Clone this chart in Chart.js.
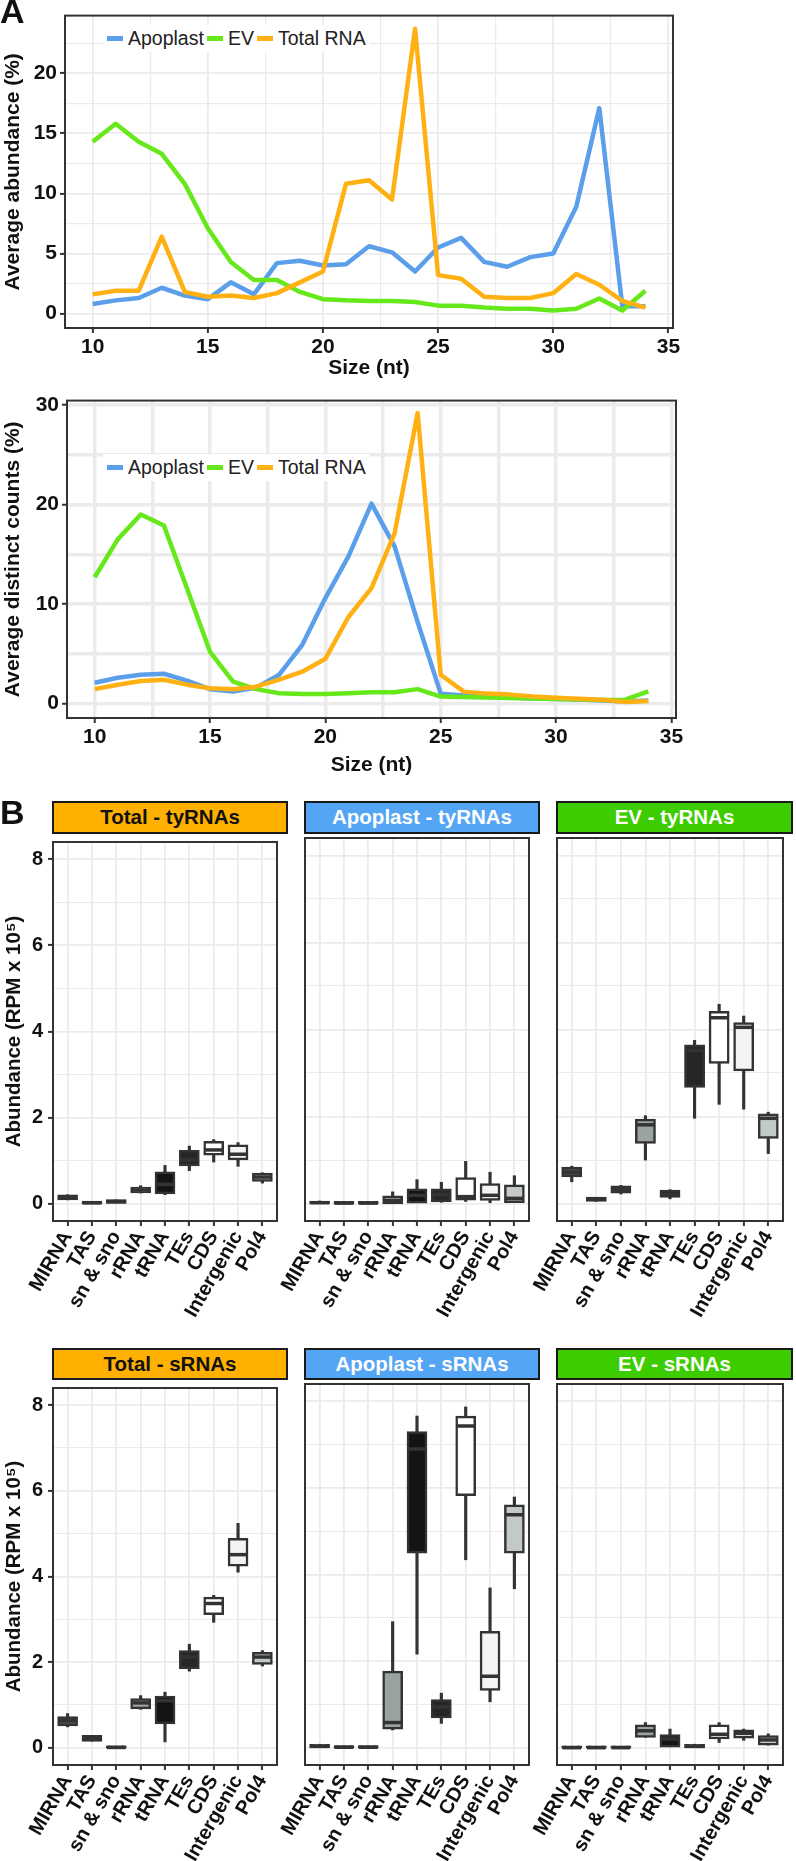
<!DOCTYPE html>
<html>
<head>
<meta charset="utf-8">
<script src="https://cdn.jsdelivr.net/npm/chart.js@4.4.1/dist/chart.umd.min.js"></script>
<style>
  body { margin: 0; background: #fff; }
  #page { position: relative; width: 796px; height: 1861px; overflow: hidden; background: #fff;
          font-family: 'Liberation Sans', Arial, sans-serif; }
  canvas { position: absolute; }
  .panel-tag { position: absolute; font-weight: bold; font-size: 34px; color: #111; }
  .legend { position: absolute; display: flex; align-items: center; background: #fff;
            font-size: 19.5px; color: #222; padding: 2px 4px; white-space: nowrap; }
  .key { display: inline-block; width: 16px; height: 4.5px; margin: 0 5px 0 3px; }
  .key:first-child { margin-left: 0; }
  .strip { position: absolute; box-sizing: border-box; border: 2px solid #1a1a1a; text-align: center;
           font-weight: bold; font-size: 20.5px; line-height: 28px; }
</style>
</head>
<body>
<div id="page">
  <canvas id="abund" width="690" height="385" style="left:0;top:0"></canvas>
  <canvas id="distinct" width="690" height="395" style="left:0;top:385px"></canvas>

  <canvas id="totTy" width="290" height="510" style="left:0;top:825px"></canvas>
  <canvas id="apoTy" width="262" height="510" style="left:280px;top:825px"></canvas>
  <canvas id="evTy" width="264" height="510" style="left:532px;top:825px"></canvas>
  <canvas id="totS" width="290" height="490" style="left:0;top:1371px"></canvas>
  <canvas id="apoS" width="262" height="490" style="left:280px;top:1371px"></canvas>
  <canvas id="evS" width="264" height="490" style="left:532px;top:1371px"></canvas>

  <div class="panel-tag" style="left:0;top:-8px">A</div>
  <div class="panel-tag" style="left:0;top:793px">B</div>

  <div class="legend" style="left:103px;top:25px">
    <span class="key" style="background:#5b9fea"></span>Apoplast
    <span class="key" style="background:#66e81a"></span>EV
    <span class="key" style="background:#ffb012"></span>Total RNA
  </div>
  <div class="legend" style="left:103px;top:454px">
    <span class="key" style="background:#5b9fea"></span>Apoplast
    <span class="key" style="background:#66e81a"></span>EV
    <span class="key" style="background:#ffb012"></span>Total RNA
  </div>

  <div class="strip" style="left:52px;top:801px;width:236px;height:33px;background:#ffb000;color:#111">Total - tyRNAs</div>
  <div class="strip" style="left:304px;top:801px;width:236px;height:33px;background:#55a5f5;color:#fff">Apoplast - tyRNAs</div>
  <div class="strip" style="left:556px;top:801px;width:237px;height:33px;background:#3dcc00;color:#fff">EV - tyRNAs</div>
  <div class="strip" style="left:52px;top:1348px;width:236px;height:32px;background:#ffb000;color:#111">Total - sRNAs</div>
  <div class="strip" style="left:304px;top:1348px;width:236px;height:32px;background:#55a5f5;color:#fff">Apoplast - sRNAs</div>
  <div class="strip" style="left:556px;top:1348px;width:237px;height:32px;background:#3dcc00;color:#fff">EV - sRNAs</div>
</div>

<script>
// ---- panel A: size distributions ----
const sizes = [10, 11, 12, 13, 14, 15, 16, 17, 18, 19, 20, 21, 22, 23, 24, 25, 26, 27, 28, 29, 30, 31, 32, 33, 34];

const abundApoplast = [0.8, 1.1, 1.3, 2.15, 1.5, 1.2, 2.6, 1.6, 4.2, 4.4, 4.0, 4.1, 5.6, 5.1, 3.5, 5.5, 6.3, 4.3, 3.9, 4.7, 5.0, 8.9, 17.1, 0.6, 0.6];
const abundEV       = [14.3, 15.8, 14.3, 13.3, 10.8, 7.1, 4.3, 2.8, 2.8, 1.8, 1.2, 1.1, 1.05, 1.05, 0.97, 0.66, 0.66, 0.5, 0.4, 0.4, 0.26, 0.4, 1.26, 0.26, 1.9];
const abundTotal    = [1.6, 1.9, 1.9, 6.4, 1.8, 1.4, 1.5, 1.3, 1.7, 2.6, 3.5, 10.8, 11.1, 9.5, 23.7, 3.2, 2.9, 1.4, 1.3, 1.3, 1.7, 3.3, 2.4, 1.05, 0.5];

const distApoplast = [2.1, 2.6, 2.9, 3.0, 2.3, 1.45, 1.2, 1.6, 2.9, 5.9, 10.6, 14.8, 20.1, 15.8, 8.2, 1.0, 0.8, 0.7, 0.6, 0.5, 0.45, 0.4, 0.3, 0.2, 0.3];
const distEV       = [12.7, 16.5, 19.0, 17.9, 11.6, 5.2, 2.2, 1.45, 1.03, 0.97, 0.97, 1.03, 1.13, 1.13, 1.45, 0.7, 0.65, 0.6, 0.55, 0.5, 0.45, 0.4, 0.35, 0.39, 1.23];
const distTotal    = [1.45, 1.9, 2.26, 2.4, 1.9, 1.55, 1.45, 1.7, 2.4, 3.2, 4.5, 8.7, 11.6, 17.1, 29.2, 2.9, 1.2, 1.0, 0.9, 0.7, 0.58, 0.48, 0.39, 0.16, 0.26];

// ---- panel B: boxplots, each row is [min, q1, median, q3, max] ----
const rnaClasses = ['MIRNA', 'TAS', 'sn & sno', 'rRNA', 'tRNA', 'TEs', 'CDS', 'Intergenic', 'Pol4'];

const totalTyRNAs = [
  [0.09, 0.11, 0.15, 0.19, 0.21], [0.0, 0.0, 0.02, 0.04, 0.05], [0.02, 0.03, 0.05, 0.08, 0.09],
  [0.25, 0.27, 0.32, 0.37, 0.42], [0.21, 0.25, 0.45, 0.72, 0.89], [0.77, 0.9, 1.02, 1.22, 1.34],
  [0.97, 1.15, 1.25, 1.43, 1.49], [0.87, 1.04, 1.15, 1.35, 1.42], [0.48, 0.54, 0.62, 0.69, 0.72]
];
const apoplastTyRNAs = [
  [0.0, 0.0, 0.02, 0.04, 0.06], [0.0, 0.0, 0.01, 0.03, 0.04], [0.0, 0.0, 0.01, 0.03, 0.04],
  [0.0, 0.01, 0.07, 0.16, 0.27], [0.0, 0.03, 0.19, 0.32, 0.55], [0.03, 0.06, 0.21, 0.32, 0.49],
  [0.05, 0.1, 0.16, 0.58, 0.97], [0.02, 0.09, 0.19, 0.44, 0.72], [0.0, 0.04, 0.12, 0.41, 0.64]
];
const evTyRNAs = [
  [0.5, 0.63, 0.72, 0.82, 0.86], [0.05, 0.07, 0.1, 0.13, 0.14], [0.22, 0.26, 0.32, 0.39, 0.42],
  [1.0, 1.4, 1.81, 1.92, 2.02], [0.11, 0.16, 0.22, 0.29, 0.32], [1.96, 2.69, 3.52, 3.63, 3.75],
  [2.28, 3.24, 4.27, 4.4, 4.58], [2.17, 3.07, 4.05, 4.14, 4.31], [1.15, 1.52, 1.96, 2.04, 2.1]
];
const totalSRNAs = [
  [0.49, 0.53, 0.64, 0.71, 0.8], [0.16, 0.17, 0.22, 0.27, 0.28], [0.0, 0.0, 0.01, 0.03, 0.04],
  [0.9, 0.93, 1.05, 1.13, 1.22], [0.14, 0.58, 1.1, 1.19, 1.3], [1.79, 1.87, 2.12, 2.25, 2.42],
  [2.93, 3.13, 3.37, 3.5, 3.56], [4.1, 4.26, 4.51, 4.87, 5.24], [1.91, 1.97, 2.12, 2.21, 2.27]
];
const apoplastSRNAs = [
  [0.0, 0.0, 0.03, 0.06, 0.08], [0.0, 0.0, 0.01, 0.03, 0.04], [0.0, 0.0, 0.01, 0.03, 0.04],
  [0.41, 0.45, 0.58, 1.75, 2.91], [2.16, 4.51, 6.9, 7.28, 7.66], [0.56, 0.71, 0.94, 1.09, 1.26],
  [4.34, 5.84, 7.43, 7.64, 7.87], [1.06, 1.34, 1.65, 2.67, 3.69], [3.67, 4.51, 5.38, 5.59, 5.79]
];
const evSRNAs = [
  [0.0, 0.0, 0.0, 0.02, 0.03], [0.0, 0.0, 0.0, 0.02, 0.03], [0.0, 0.0, 0.0, 0.02, 0.03],
  [0.24, 0.26, 0.39, 0.51, 0.58], [0.02, 0.03, 0.2, 0.28, 0.43], [0.0, 0.0, 0.03, 0.06, 0.08],
  [0.12, 0.22, 0.31, 0.51, 0.58], [0.17, 0.24, 0.33, 0.39, 0.43], [0.06, 0.08, 0.18, 0.26, 0.32]
];

// styles
const BLUE = '#5b9fea', GREEN = '#66e81a', ORANGE = '#ffb012';
const BOXLINE = '#333333';
const classFills = ['#4d4d4d', '#2b2b2b', '#2b2b2b', '#9aa3a1', '#141414', '#262626', '#ffffff', '#f4f4f4', '#c3c9c7'];

Chart.defaults.font.family = "'Liberation Sans', Arial, sans-serif";
Chart.defaults.color = '#111';

// ggplot-like panel border, drawn over the data
const framePlugin = {
  id: 'frame',
  afterDatasetsDraw(chart) {
    const { ctx, chartArea: a } = chart;
    ctx.save();
    ctx.strokeStyle = '#333';
    ctx.lineWidth = 2;
    ctx.strokeRect(a.left, a.top, a.right - a.left, a.bottom - a.top);
    ctx.restore();
  }
};

function lineChart(id, series, o) {
  new Chart(document.getElementById(id), {
    type: 'line',
    data: {
      labels: sizes,
      datasets: [
        { data: series[0], borderColor: BLUE, order: 3 },
        { data: series[1], borderColor: GREEN, order: 2 },
        { data: series[2], borderColor: ORANGE, order: 1 }
      ]
    },
    options: {
      responsive: false,
      animation: false,
      layout: { padding: o.padding },
      elements: {
        point: { radius: 0 },
        line: { borderWidth: 4.5, tension: 0, borderJoinStyle: 'round' }
      },
      plugins: { legend: { display: false }, tooltip: { enabled: false } },
      scales: {
        x: {
          type: 'linear', min: 8.8, max: 35.2,
          border: { display: false },
          ticks: {
            stepSize: 2.5, includeBounds: false, autoSkip: false, maxRotation: 0, padding: 2,
            font: { size: 21, weight: 'bold' },
            callback: v => (v % 5 === 0 ? v : '')
          },
          grid: {
            color: '#ebebeb',
            lineWidth: c => (o.thickGrid ? 3.5 : (c.tick && c.tick.value % 5 === 0 ? 1.8 : 1.2)),
            tickLength: 5, tickWidth: 2,
            tickColor: c => (c.tick && c.tick.value % 5 === 0 ? '#333' : 'rgba(0,0,0,0)')
          },
          title: { display: true, text: 'Size (nt)', font: { size: 21, weight: 'bold' }, padding: { top: 0, bottom: o.xTitlePad } },
          afterFit: s => { s.height = o.xh; }
        },
        y: {
          min: o.yMin, max: o.yMax,
          border: { display: false },
          ticks: {
            stepSize: o.yStep, includeBounds: false, padding: 3,
            font: { size: 21, weight: 'bold' },
            callback: v => (v % o.yLabelEvery === 0 ? v : '')
          },
          grid: {
            color: '#ebebeb',
            lineWidth: c => (o.thickGrid ? 3.5 : (c.tick && c.tick.value % o.yLabelEvery === 0 ? 1.8 : 1.2)),
            tickLength: 5, tickWidth: 2,
            tickColor: c => (c.tick && c.tick.value % o.yLabelEvery === 0 ? '#333' : 'rgba(0,0,0,0)')
          },
          title: { display: true, text: o.yTitle, font: { size: 21, weight: 'bold' }, padding: { top: 1 } },
          afterFit: s => { s.width = o.yw; }
        }
      }
    },
    plugins: [framePlugin]
  });
}

lineChart('abund', [abundApoplast, abundEV, abundTotal], {
  padding: { top: 3, right: 17 }, xh: 57, yw: 65, xTitlePad: 4,
  yMin: -1.2, yMax: 24.8, yStep: 2.5, yLabelEvery: 5,
  yTitle: 'Average abundance (%)', thickGrid: false
});
lineChart('distinct', [distApoplast, distEV, distTotal], {
  padding: { top: 7, right: 14 }, xh: 62, yw: 67, xTitlePad: 2,
  yMin: -1.45, yMax: 30.45, yStep: 5, yLabelEvery: 10,
  yTitle: 'Average distinct counts (%)', thickGrid: true
});

function boxChart(id, stats, o) {
  const idx = rnaClasses.map((c, i) => i);
  new Chart(document.getElementById(id), {
    type: 'bar',
    data: {
      labels: idx,
      datasets: [
        { type: 'line', data: stats.map(s => s[2]), showLine: false, pointStyle: 'line',
          pointRadius: 9.5, pointBorderWidth: 3.5, pointBorderColor: BOXLINE, order: 0 },
        { data: stats.map(s => [s[1], s[3]]), backgroundColor: classFills, borderColor: BOXLINE,
          borderWidth: 2.5, borderSkipped: false, inflateAmount: 1.2, grouped: false,
          barPercentage: 0.75, categoryPercentage: 1, order: 1 },
        { data: stats.map(s => [s[0], s[4]]), backgroundColor: BOXLINE, borderWidth: 0, grouped: false,
          barPercentage: 1, categoryPercentage: 1, maxBarThickness: 2.5, order: 2 }
      ]
    },
    options: {
      responsive: false,
      animation: false,
      layout: { padding: o.padding },
      plugins: { legend: { display: false }, tooltip: { enabled: false } },
      scales: {
        x: {
          type: 'linear', min: -0.6, max: 8.6, offset: false,
          border: { display: false },
          ticks: {
            stepSize: 1, includeBounds: false, autoSkip: false, minRotation: 60, maxRotation: 60, padding: 1,
            font: { size: 20, weight: 'bold' },
            callback: v => rnaClasses[v]
          },
          grid: { offset: false, color: '#ebebeb', lineWidth: 1.8, tickLength: 5, tickWidth: 2, tickColor: '#333' },
          afterFit: s => { s.height = o.xh; }
        },
        y: {
          min: -0.4, max: 8.4, beginAtZero: false,
          border: { display: false },
          ticks: {
            display: o.yAxis, stepSize: 1, includeBounds: false, padding: 5,
            font: { size: 20, weight: 'bold' },
            callback: v => (v % 2 === 0 ? v : '')
          },
          grid: {
            color: '#ebebeb',
            lineWidth: c => (c.tick && c.tick.value % 2 === 0 ? 1.8 : 1.1),
            drawTicks: o.yAxis, tickLength: 5, tickWidth: 2,
            tickColor: c => (c.tick && c.tick.value % 2 === 0 ? '#333' : 'rgba(0,0,0,0)')
          },
          title: { display: o.yAxis, text: 'Abundance (RPM x 10\u2075)', font: { size: 20.5, weight: 'bold' }, padding: { top: 2 } },
          afterFit: s => { s.width = o.yAxis ? 53 : 0; }
        }
      }
    },
    plugins: [framePlugin]
  });
}

// middle and right panels get extra left room so the first rotated label is not cut
boxChart('totTy', totalTyRNAs, { yAxis: true, padding: { top: 8, right: 3 }, xh: 114 });
boxChart('apoTy', apoplastTyRNAs, { yAxis: false, padding: { top: 8, left: 25, right: 3 }, xh: 114 });
boxChart('evTy', evTyRNAs, { yAxis: false, padding: { top: 8, left: 25, right: 4 }, xh: 114 });
boxChart('totS', totalSRNAs, { yAxis: true, padding: { top: 8, right: 3 }, xh: 96 });
boxChart('apoS', apoplastSRNAs, { yAxis: false, padding: { top: 8, left: 25, right: 3 }, xh: 96 });
boxChart('evS', evSRNAs, { yAxis: false, padding: { top: 8, left: 25, right: 4 }, xh: 96 });
</script>
</body>
</html>
